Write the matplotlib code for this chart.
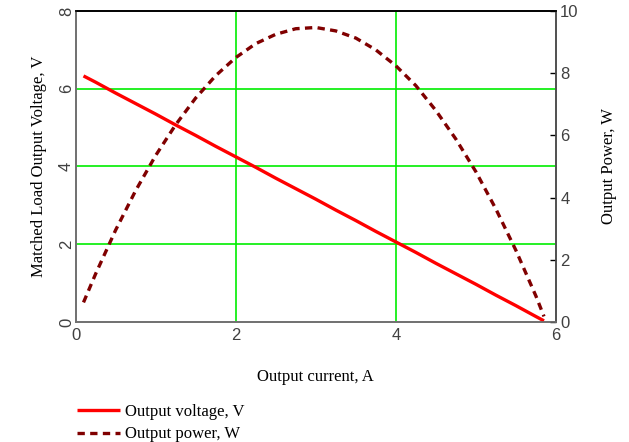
import matplotlib
matplotlib.use("Agg")
import matplotlib.pyplot as plt

# Output current, A
current = [0.10, 0.25, 0.50, 0.75, 1.00, 1.25, 1.50, 1.75, 2.00, 2.25, 2.50, 2.75,
           3.00, 3.25, 3.50, 3.75, 4.00, 4.25, 4.50, 4.75, 5.00, 5.25, 5.50, 5.75, 5.85]
# Matched load output voltage, V
voltage = [6.33, 6.17, 5.89, 5.62, 5.35, 5.07, 4.80, 4.52, 4.25, 3.98, 3.70, 3.43,
           3.16, 2.88, 2.61, 2.33, 2.06, 1.79, 1.51, 1.24, 0.97, 0.69, 0.42, 0.14, 0.03]
# Output power, W
power = [0.63, 1.54, 2.95, 4.22, 5.35, 6.34, 7.20, 7.92, 8.50, 8.95, 9.25, 9.43,
         9.47, 9.36, 9.13, 8.75, 8.24, 7.60, 6.80, 5.88, 4.83, 3.63, 2.30, 0.83, 0.18]

x_ticks = [0, 2, 4, 6]
v_ticks = [0, 2, 4, 6, 8]
p_ticks = [0, 2, 4, 6, 8, 10]

serif = "Liberation Serif"
sans = "Liberation Sans"
tick_col = "#404040"

fig = plt.figure(figsize=(6.29, 4.42), dpi=100)
W, H = 629, 442
ax = fig.add_axes([75.5 / W, 1 - 322 / H, 480.5 / W, 311 / H])
ax2 = ax.twinx()

ax.set_xlim(0, 6)
ax.set_ylim(0, 8)
ax2.set_ylim(0, 10)

# grid
for xv in x_ticks[1:-1]:
    ax.axvline(xv, color="#00ee00", lw=1.2, zorder=1)
for yv in v_ticks[1:-1]:
    ax.axhline(yv, color="#00ee00", lw=1.2, zorder=1)

l1, = ax.plot(current, voltage, color="#ff0000", lw=2.4, zorder=3,
              solid_capstyle="butt", label="Output voltage, V")
l2, = ax2.plot(current, power, color="#800000", lw=2.4, zorder=3,
               dashes=(2.2, 1.6), label="Output power, W")

ax.set_xticks(x_ticks)
ax.set_yticks(v_ticks)
ax2.set_yticks(p_ticks)
ax.tick_params(axis="both", length=0, labelsize=12, labelcolor=tick_col,
               pad=4)
ax.tick_params(axis="y", pad=1)
for lab in ax.get_xticklabels() + ax.get_yticklabels() + ax2.get_yticklabels():
    lab.set_family(sans)
for lab in ax.get_yticklabels():
    lab.set_rotation(90)
    lab.set_va("center")
ax2.tick_params(axis="y", direction="in", length=4, width=1, color="black",
                labelsize=12, labelcolor=tick_col, pad=3)

for a in (ax, ax2):
    a.spines["left"].set_color("#707070")
    a.spines["bottom"].set_color("#707070")
    a.spines["top"].set_color("black")
    a.spines["right"].set_color("#505050")
    for s in a.spines.values():
        s.set_linewidth(1.2)

ax.set_xlabel("Output current, A", family=serif, fontsize=12, labelpad=19)
ax.set_ylabel("Matched Load Output Voltage, V", family=serif, fontsize=12,
              labelpad=9)
ax2.set_ylabel("Output Power, W", family=serif, fontsize=12, labelpad=16)

fig.legend(handles=[l1, l2], loc="upper left",
           bbox_to_anchor=(70 / W, 1 - 397 / H), frameon=False,
           prop={"family": serif, "size": 12}, handlelength=2.6,
           handletextpad=0.3, labelspacing=0.4, borderaxespad=0)

fig.savefig("out.png", dpi=100)
